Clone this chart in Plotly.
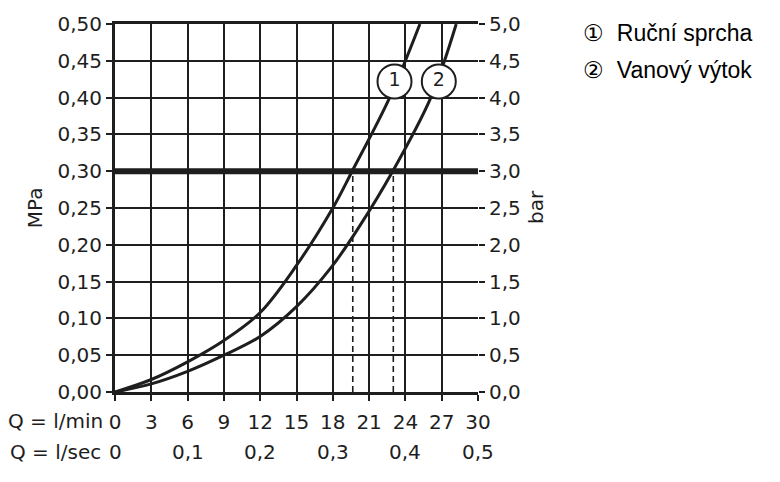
import plotly.graph_objects as go

# ---- data ----
q_ticks = [0, 3, 6, 9, 12, 15, 18, 21, 24, 27, 30]
q_tick_labels = ["0", "3", "6", "9", "12", "15", "18", "21", "24", "27", "30"]
qsec_pos = [0, 6, 12, 18, 24, 30]
qsec_labels = ["0", "0,1", "0,2", "0,3", "0,4", "0,5"]
mpa_ticks = [0, 0.05, 0.10, 0.15, 0.20, 0.25, 0.30, 0.35, 0.40, 0.45, 0.50]
mpa_labels = ["0,00", "0,05", "0,10", "0,15", "0,20", "0,25", "0,30", "0,35", "0,40", "0,45", "0,50"]
bar_ticks = [0, 0.5, 1, 1.5, 2, 2.5, 3, 3.5, 4, 4.5, 5]
bar_labels = ["0,0", "0,5", "1,0", "1,5", "2,0", "2,5", "3,0", "3,5", "4,0", "4,5", "5,0"]

c1_q = [0, 3, 6, 9, 12, 15, 18.0, 19.6, 22.7, 25.2]
c1_p = [0, 0.017, 0.041, 0.070, 0.108, 0.172, 0.25, 0.30, 0.40, 0.50]
c2_q = [0, 3, 6, 9, 12, 15, 17.9, 20.2, 22.95, 26.1, 28.2]
c2_p = [0, 0.011, 0.028, 0.050, 0.0755, 0.116, 0.17, 0.225, 0.30, 0.40, 0.50]

ref_pressure = 0.30
ref_flows = [19.65, 23.0]
label_q = [23.1, 26.76]
label_p = [0.422, 0.422]
label_text = ["1", "2"]
legend_items = ["\u2460  Ruční sprcha", "\u2461  Vanový výtok"]

INK = "#1e1e1e"
FONT = "DejaVu Sans"
FS = 20

fig = go.Figure()

for fq in ref_flows:
    fig.add_trace(go.Scatter(x=[fq, fq], y=[0, ref_pressure], mode="lines",
                             line=dict(color=INK, width=1.6, dash="6px,4px"),
                             showlegend=False, hoverinfo="skip"))

for qs, ps in [(c1_q, c1_p), (c2_q, c2_p)]:
    fig.add_trace(go.Scatter(x=qs, y=ps, mode="lines",
                             line=dict(color=INK, width=3, shape="spline", smoothing=1.0),
                             showlegend=False))

fig.add_trace(go.Scatter(x=label_q, y=label_p, mode="markers+text", text=label_text,
                         textposition="middle center",
                         textfont=dict(family=FONT, size=19, color=INK),
                         marker=dict(size=34, color="white", line=dict(color=INK, width=2)),
                         showlegend=False))

# invisible trace on bar axis
fig.add_trace(go.Scatter(x=[0], y=[0], yaxis="y2", mode="markers", marker=dict(opacity=0),
                         showlegend=False, hoverinfo="skip"))

fig.add_shape(type="line", xref="paper", x0=0, x1=1, yref="y", y0=ref_pressure, y1=ref_pressure,
              line=dict(color=INK, width=6))

axis_common = dict(showgrid=True, gridcolor=INK, gridwidth=2, showline=True, linecolor=INK,
                   linewidth=3, ticks="outside", ticklen=6, tickwidth=2, tickcolor=INK,
                   zeroline=False, tickfont=dict(family=FONT, size=FS, color=INK))

fig.update_layout(
    width=780, height=482,
    margin=dict(l=115, r=302, t=24, b=90),
    plot_bgcolor="white", paper_bgcolor="white",
    xaxis=dict(range=[0, 30], tickvals=q_ticks, ticktext=q_tick_labels, mirror=True,
               ticklabelstandoff=4, **axis_common),
    yaxis=dict(range=[0, 0.5], tickvals=mpa_ticks, ticktext=mpa_labels, ticklabelstandoff=0,
               **axis_common),
    yaxis2=dict(range=[0, 5], tickvals=bar_ticks, ticktext=bar_labels, overlaying="y", side="right",
                showgrid=False, showline=False, ticks="outside", ticklen=6, tickwidth=2, tickcolor=INK,
                zeroline=False, ticklabelstandoff=0,
                tickfont=dict(family=FONT, size=FS, color=INK)),
)

ann = []
ann.append(dict(text="Q = l/min", xref="paper", yref="paper", x=-0.028, y=-0.079,
                xanchor="right", yanchor="middle", showarrow=False,
                font=dict(family=FONT, size=FS, color=INK)))
ann.append(dict(text="Q = l/sec", xref="paper", yref="paper", x=-0.033, y=-0.163,
                xanchor="right", yanchor="middle", showarrow=False,
                font=dict(family=FONT, size=FS, color=INK)))
for pos, lab in zip(qsec_pos, qsec_labels):
    ann.append(dict(text=lab, xref="x", yref="paper", x=pos, y=-0.163, xanchor="center",
                    yanchor="middle", showarrow=False, font=dict(family=FONT, size=FS, color=INK)))
ann.append(dict(text="MPa", xref="paper", yref="paper", x=-0.22, y=0.5, textangle=-90,
                xanchor="center", yanchor="middle", showarrow=False,
                font=dict(family=FONT, size=FS, color=INK)))
ann.append(dict(text="bar", xref="paper", yref="paper", x=1.16, y=0.503, textangle=-90,
                xanchor="center", yanchor="middle", showarrow=False,
                font=dict(family=FONT, size=FS, color=INK)))
for i, item in enumerate(legend_items):
    ann.append(dict(text=item, xref="paper", yref="paper", x=1.285, y=[0.976, 0.875][i],
                    xanchor="left", yanchor="middle", showarrow=False,
                    font=dict(family="Liberation Sans", size=23, color="black")))
fig.update_layout(annotations=ann)

fig.write_html("out.html")
